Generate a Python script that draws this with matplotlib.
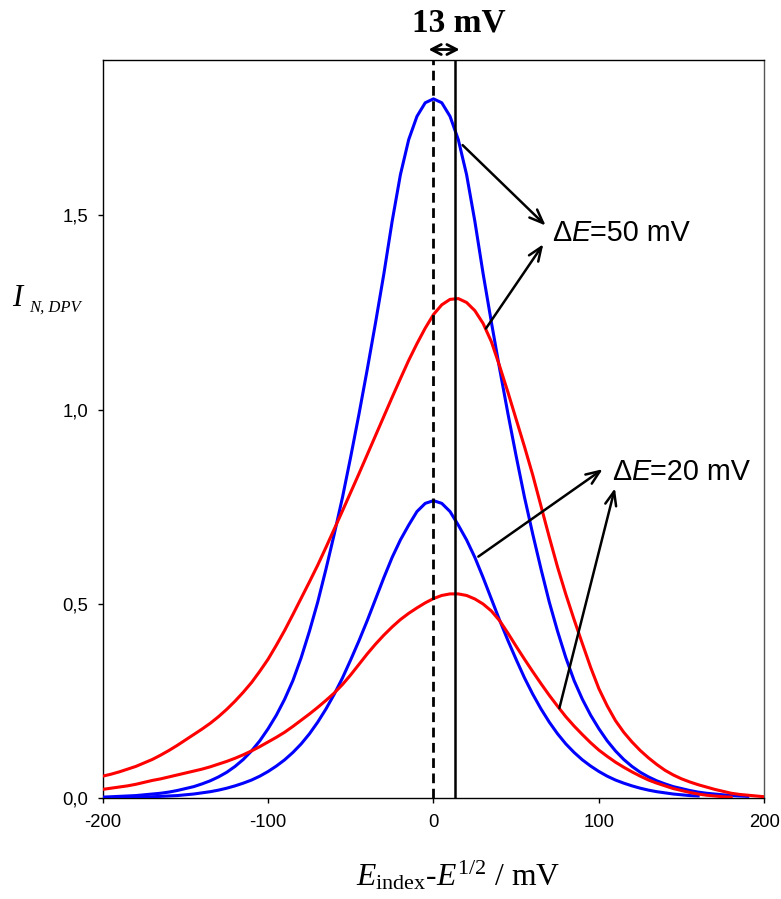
import matplotlib
matplotlib.use('Agg')
import matplotlib.pyplot as plt

plt.rcParams['mathtext.fontset'] = 'custom'
plt.rcParams['mathtext.rm'] = 'Liberation Serif'
plt.rcParams['mathtext.it'] = 'Liberation Serif:italic'
plt.rcParams['mathtext.bf'] = 'Liberation Serif:bold'
plt.rcParams['font.family'] = ['Liberation Sans', 'DejaVu Sans']

# ---------------- data ----------------
# Blue, dE = 50 mV   (sampled every 5 mV from -200 to 190)
b50_x = list(range(-200, 195, 5))
b50_y = [0.003, 0.004, 0.005, 0.006, 0.007, 0.009, 0.011, 0.013, 0.016, 0.020,
         0.025, 0.030, 0.037, 0.045, 0.055, 0.067, 0.082, 0.100, 0.122, 0.148,
         0.179, 0.214, 0.255, 0.303, 0.362, 0.430, 0.505, 0.590, 0.680, 0.775,
         0.880, 0.990, 1.105, 1.225, 1.350, 1.485, 1.605, 1.695, 1.755, 1.790,
         1.800,
         1.790, 1.755, 1.695, 1.605, 1.485, 1.350, 1.225, 1.105, 0.990, 0.880,
         0.775, 0.680, 0.590, 0.505, 0.430, 0.362, 0.303, 0.255, 0.214, 0.179,
         0.148, 0.122, 0.100, 0.082, 0.067, 0.055, 0.045, 0.037, 0.030, 0.025,
         0.020, 0.016, 0.013, 0.011, 0.009, 0.007, 0.006, 0.005]

# Red, dE = 50 mV   (every 5 mV from -200 to 200)
r50_x = list(range(-200, 205, 5))
r50_y = [0.057, 0.062, 0.068, 0.075, 0.082, 0.091, 0.100, 0.111, 0.123, 0.136,
         0.150, 0.164, 0.178, 0.193, 0.210, 0.229, 0.250, 0.273, 0.298, 0.327,
         0.358, 0.394, 0.432, 0.473, 0.515, 0.557, 0.600, 0.646, 0.693, 0.740,
         0.788, 0.836, 0.885, 0.934, 0.983, 1.032, 1.080, 1.127, 1.170, 1.210,
         1.245,
         1.270, 1.284, 1.286, 1.276, 1.255, 1.222, 1.175, 1.112, 1.045, 0.975,
         0.905, 0.832, 0.752, 0.672, 0.595, 0.525, 0.460, 0.398, 0.337, 0.282,
         0.238, 0.200, 0.170, 0.145, 0.123, 0.104, 0.087, 0.072, 0.060, 0.050,
         0.042, 0.035, 0.029, 0.023, 0.018, 0.013, 0.010, 0.008, 0.006, 0.004]

# Blue, dE = 20 mV   (every 5 mV from -200 to 160)
b20_x = list(range(-200, 165, 5))
b20_y = [0.001, 0.001, 0.0015, 0.002, 0.0025, 0.003, 0.004, 0.005, 0.006, 0.007,
         0.009, 0.011, 0.014, 0.017, 0.021, 0.026, 0.032, 0.039, 0.047, 0.057,
         0.069, 0.083, 0.099, 0.118, 0.140, 0.166, 0.196, 0.230, 0.268, 0.310,
         0.357, 0.406, 0.458, 0.513, 0.568, 0.620, 0.665, 0.703, 0.738, 0.759,
         0.766,
         0.759, 0.738, 0.703, 0.665, 0.620, 0.568, 0.513, 0.458, 0.406, 0.357,
         0.310, 0.268, 0.230, 0.196, 0.166, 0.140, 0.118, 0.099, 0.083, 0.069,
         0.057, 0.047, 0.039, 0.032, 0.026, 0.021, 0.017, 0.014, 0.011, 0.009,
         0.007, 0.006]

# Red, dE = 20 mV   (every 5 mV from -200 to 180)
r20_x = list(range(-200, 185, 5))
r20_y = [0.023, 0.026, 0.029, 0.032, 0.036, 0.041, 0.046, 0.050, 0.055, 0.060,
         0.065, 0.070, 0.075, 0.081, 0.088, 0.095, 0.103, 0.112, 0.122, 0.133,
         0.145, 0.157, 0.170, 0.185, 0.201, 0.217, 0.234, 0.252, 0.271, 0.293,
         0.318, 0.345, 0.372, 0.397, 0.420, 0.441, 0.460, 0.476, 0.490, 0.503,
         0.514,
         0.522, 0.526, 0.526, 0.522, 0.513, 0.500, 0.482, 0.457, 0.425, 0.391,
         0.358, 0.326, 0.295, 0.265, 0.237, 0.210, 0.186, 0.164, 0.143, 0.124,
         0.108, 0.093, 0.080, 0.068, 0.057, 0.047, 0.039, 0.032, 0.025, 0.020,
         0.015, 0.011, 0.008, 0.006, 0.004, 0.003]

x_ticks = [-200, -100, 0, 100, 200]
x_ticklabels = ['-200', '-100', '0', '100', '200']
y_ticks = [0.0, 0.5, 1.0, 1.5]
y_ticklabels = ['0,0', '0,5', '1,0', '1,5']

peak_rev = 0      # dashed line position (mV)
peak_shift = 13   # solid line position (mV)

# ---------------- figure ----------------
W, H = 781, 899
fig = plt.figure(figsize=(W / 100, H / 100), dpi=100)
ax = fig.add_axes([102.7 / W, 1 - 798.3 / H, (764.3 - 102.7) / W, (798.3 - 60) / H])

ax.plot(b50_x, b50_y, color='#0000FF', lw=2.2, zorder=3)
ax.plot(r50_x, r50_y, color='#FF0000', lw=2.2, zorder=3)
ax.plot(b20_x, b20_y, color='#0000FF', lw=2.2, zorder=3)
ax.plot(r20_x, r20_y, color='#FF0000', lw=2.2, zorder=3)

ax.axvline(peak_rev, color='black', lw=2.0, ls=(0, (3.5, 2.0)), zorder=4)
ax.axvline(peak_shift, color='black', lw=1.8, zorder=4)

ax.set_xlim(-200, 200)
ax.set_ylim(0, 1.90)
ax.set_xticks(x_ticks)
ax.set_xticklabels(x_ticklabels)
ax.set_yticks(y_ticks)
ax.set_yticklabels(y_ticklabels)
ax.tick_params(axis='both', direction='out', length=3.6, width=1.0, labelsize=13.3, colors='black')
ax.tick_params(axis='x', pad=8)
ax.tick_params(axis='y', pad=6.8)
for s in ax.spines.values():
    s.set_linewidth(1.0)
    s.set_color('black')
ax.spines['right'].set_color('#555555')

# arrows
arrow_kw = dict(arrowstyle='->,head_length=0.5,head_width=0.2', color='black', lw=1.8,
                shrinkA=0, shrinkB=0, mutation_scale=20)
ax.annotate('', xy=(67.8, 1.474), xytext=(17.6, 1.681), arrowprops=arrow_kw)
ax.annotate('', xy=(66.4, 1.426), xytext=(31.7, 1.209), arrowprops=arrow_kw)
ax.annotate('', xy=(102.3, 0.847), xytext=(27.1, 0.622), arrowprops=arrow_kw)
ax.annotate('', xy=(109.7, 0.798), xytext=(76.1, 0.232), arrowprops=arrow_kw)

# double arrow above plot
ax.annotate('', xy=(-3.0, 1.927), xytext=(15.8, 1.927), annotation_clip=False,
            arrowprops=dict(arrowstyle='<->,head_length=0.35,head_width=0.18', color='black', lw=2.0,
                            shrinkA=0, shrinkB=0, mutation_scale=20))


def label_dE(x, y, val):
    fs = 20.7
    t1 = ax.text(x, y, '\u0394', fontsize=fs, va='center', ha='left', family='Liberation Sans')
    t2 = ax.annotate('E', xy=(1, 0), xycoords=t1, va='bottom', ha='left', fontsize=fs,
                     style='italic', family='Liberation Sans')
    ax.annotate('=' + val + ' mV', xy=(1, 0), xycoords=t2, va='bottom', ha='left', fontsize=fs,
                family='Liberation Sans')


label_dE(71.5, 1.454, '50')
label_dE(107.7, 0.840, '20')

# titles / labels
fig.text(459 / W, 1 - 32 / H, '13 mV', fontsize=24, fontweight='bold', family='Liberation Serif',
         ha='center', va='baseline')
fig.text(458.5 / W, 1 - 885 / H, r'$E_{\mathrm{index}}$-$E^{1/2}$ / mV', fontsize=22.8,
         family='Liberation Serif', ha='center', va='baseline')
fig.text(12 / W, 1 - 306 / H, 'I', fontsize=22, style='italic', family='Liberation Serif',
         ha='left', va='baseline')
fig.text(29 / W, 1 - 312 / H, 'N, DPV', fontsize=12, style='italic', family='Liberation Serif',
         ha='left', va='baseline')

fig.savefig('out.png', dpi=100)
